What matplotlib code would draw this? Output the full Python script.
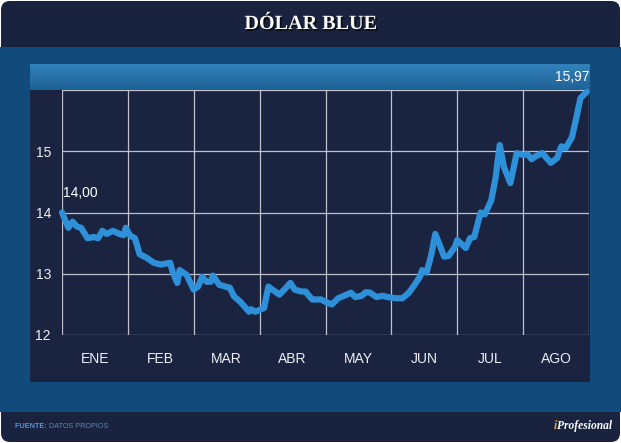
#DOLAR BLUE 2015 - COTIZACION DIARIA
import pandas as pd
import numpy as np
import matplotlib
matplotlib.use("Agg")
import matplotlib.pyplot as plt
import matplotlib.patheffects as pe
from matplotlib.patches import FancyBboxPatch, Rectangle

#DATOS
fechas = [
    "2015-01-01", "2015-01-04", "2015-01-06", "2015-01-08", "2015-01-10",
    "2015-01-13", "2015-01-16", "2015-01-18", "2015-01-20", "2015-01-22",
    "2015-01-25", "2015-01-28", "2015-01-30", "2015-01-31", "2015-02-02",
    "2015-02-04", "2015-02-06", "2015-02-09", "2015-02-12", "2015-02-15",
    "2015-02-19", "2015-02-20", "2015-02-22", "2015-02-23", "2015-02-26",
    "2015-03-01", "2015-03-03", "2015-03-05", "2015-03-07", "2015-03-09",
    "2015-03-10", "2015-03-13", "2015-03-18", "2015-03-20", "2015-03-23",
    "2015-03-27", "2015-03-28", "2015-03-30", "2015-04-03", "2015-04-05",
    "2015-04-08", "2015-04-10", "2015-04-13", "2015-04-15", "2015-04-17",
    "2015-04-20", "2015-04-22", "2015-04-23", "2015-04-25", "2015-04-29",
    "2015-05-01", "2015-05-04", "2015-05-07", "2015-05-11", "2015-05-13",
    "2015-05-15", "2015-05-18", "2015-05-20", "2015-05-22", "2015-05-25",
    "2015-05-28", "2015-05-30", "2015-06-03", "2015-06-06", "2015-06-09",
    "2015-06-11", "2015-06-14", "2015-06-15", "2015-06-17", "2015-06-19",
    "2015-06-21", "2015-06-23", "2015-06-25", "2015-06-27", "2015-06-30",
    "2015-07-01", "2015-07-05", "2015-07-07", "2015-07-09", "2015-07-12",
    "2015-07-14", "2015-07-17", "2015-07-19", "2015-07-21", "2015-07-23",
    "2015-07-26", "2015-07-29", "2015-08-01", "2015-08-03", "2015-08-05",
    "2015-08-07", "2015-08-10", "2015-08-14", "2015-08-17", "2015-08-19",
    "2015-08-21", "2015-08-24", "2015-08-26", "2015-08-28", "2015-08-31",
]
valores = [
    14.00, 13.75, 13.85, 13.77, 13.75,
    13.58, 13.60, 13.58, 13.70, 13.65,
    13.70, 13.65, 13.63, 13.75, 13.62,
    13.58, 13.32, 13.26, 13.18, 13.15,
    13.18, 13.03, 12.85, 13.06, 12.98,
    12.74, 12.79, 12.95, 12.87, 12.87,
    12.97, 12.82, 12.77, 12.63, 12.54,
    12.38, 12.42, 12.38, 12.44, 12.79,
    12.71, 12.66, 12.77, 12.85, 12.74,
    12.71, 12.71, 12.66, 12.58, 12.58,
    12.54, 12.50, 12.60, 12.66, 12.69,
    12.62, 12.64, 12.70, 12.69, 12.62,
    12.64, 12.62, 12.60, 12.60, 12.69,
    12.79, 12.95, 13.06, 13.02, 13.28,
    13.65, 13.47, 13.28, 13.29, 13.44,
    13.55, 13.42, 13.58, 13.60, 14.00,
    13.97, 14.20, 14.56, 15.10, 14.74,
    14.48, 14.97, 14.94, 14.95, 14.87,
    14.92, 14.97, 14.81, 14.89, 15.08,
    15.05, 15.23, 15.54, 15.87, 15.97,
]
meses   = ["ENE", "FEB", "MAR", "ABR", "MAY", "JUN", "JUL", "AGO"]
y_ticks = [12, 13, 14, 15]

#COLORES
NAVY   = "#19233f"
AZUL   = "#114a7b"
PANEL  = "#1a2441"
LINEA  = "#2e90d8"
GRILLA = "#bfc2cc"

W, H = 621, 443
fig = plt.figure(figsize=(W / 100, H / 100), dpi=100, facecolor="white")

#--- FONDO (EJES EN PIXELES) ---
bg = fig.add_axes([0, 0, 1, 1], zorder=-10)
bg.set_xlim(0, W)
bg.set_ylim(H, 0)
bg.axis("off")
bg.add_patch(FancyBboxPatch((1, 1), W - 2, H - 2,
                            boxstyle="round,pad=0,rounding_size=9",
                            fc=NAVY, ec="none"))
bg.add_patch(Rectangle((0, 47), W, 365, fc=AZUL, ec="none"))
bg.add_patch(Rectangle((30, 90), 560, 292, fc=PANEL, ec="none"))
grad = np.linspace(0, 1, 50).reshape(-1, 1)
cmap_bar = matplotlib.colors.LinearSegmentedColormap.from_list("b", ["#3282ba", "#1f6196"])
bg.imshow(grad, cmap=cmap_bar, extent=(30, 590, 90, 64), aspect="auto", zorder=2)

bg.text(W / 2, 24, "DÓLAR BLUE", ha="center", va="center", color="white",
        fontsize=14.5, fontweight="bold", family="Liberation Serif",
        path_effects=[pe.withSimplePatchShadow(offset=(1.2, -1.2), shadow_rgbFace="black", alpha=0.7)])

t1 = bg.text(15, 427, "FUENTE: ", ha="left", va="center", color="#4f9ad8",
             fontsize=5.2, fontweight="bold", family="Liberation Sans")
bg.annotate("DATOS PROPIOS", xy=(1, 0), xycoords=t1, ha="left", va="bottom",
            color="#5f84b3", fontsize=5.2, family="Liberation Sans")
t2 = bg.text(612, 426, "Profesional", ha="right", va="center", color="white",
             fontsize=8.3, fontweight="bold", style="italic", family="Liberation Serif")
bg.annotate("i", xy=(0, 0), xycoords=t2, ha="right", va="bottom", color="#f0a030",
            fontsize=8.3, fontweight="bold", style="italic", family="Liberation Serif")

#--- GRAFICO PRINCIPAL ---
d = pd.to_datetime(pd.Series(fechas))
x = (d.dt.month - 1) + (d.dt.day - 1) / d.dt.days_in_month

ax = fig.add_axes([62 / W, 1 - 335 / H, 527 / W, 245 / H])
ax.set_facecolor("none")
ax.plot(x, valores, color=LINEA, lw=4.5, solid_capstyle="round",
        solid_joinstyle="round", clip_on=False, zorder=3)
ax.set_xlim(0, len(meses))
ax.set_ylim(12, 16)
for i in range(len(meses) + 1):
    ax.axvline(i, color=GRILLA, lw=0.9, zorder=1)
for v in range(12, 17):
    ax.axhline(v, color=GRILLA, lw=0.9, zorder=1)

ax.set_xticks(np.arange(len(meses)) + 0.5)
ax.set_xticklabels(meses)
ax.set_yticks(y_ticks)
ax.set_yticklabels([str(v) for v in y_ticks])
ax.tick_params(length=0, colors="#eef0f5", labelsize=10)
ax.tick_params(axis="x", pad=12)
ax.tick_params(axis="y", pad=8)
for lab in ax.get_xticklabels() + ax.get_yticklabels():
    lab.set_family("Liberation Sans")
for s in ax.spines.values():
    s.set_visible(False)

#ETIQUETAS DE PRIMER Y ULTIMO VALOR
ax.annotate(f"{valores[0]:.2f}".replace(".", ","), xy=(x.iloc[0], valores[0]),
            xytext=(1, 14), textcoords="offset points", ha="left", va="center",
            color="white", fontsize=10, family="Liberation Sans", annotation_clip=False)
ax.annotate(f"{valores[-1]:.2f}".replace(".", ","), xy=(len(meses), valores[-1]),
            xytext=(0, 11), textcoords="offset points", ha="right", va="center",
            color="white", fontsize=10, family="Liberation Sans", annotation_clip=False)

plt.savefig("out.png", dpi=100, facecolor="white")
